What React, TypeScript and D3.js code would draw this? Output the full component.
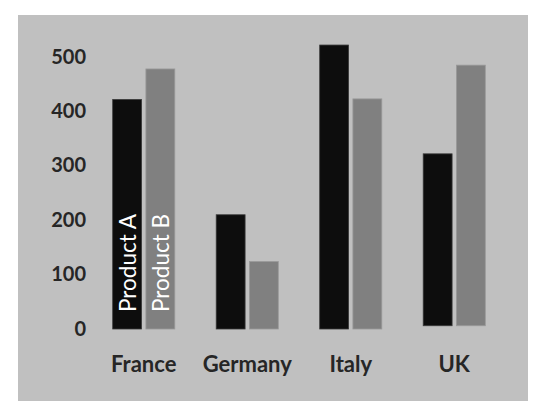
import * as d3 from 'd3';
import React, { useEffect, useRef } from 'react';

const countries = ['France', 'Germany', 'Italy', 'UK'];
const products = ['Product A', 'Product B'];
// bar tops
const productA = [422, 210, 522, 322];
const productB = [478, 124, 423, 485];
// UK bars float slightly above zero in the original
const barBase = [0, 0, 0, 6];
const yTicks = [0, 100, 200, 300, 400, 500];

const width = 546;
const height = 416;
const font = 'Lato, "Open Sans", sans-serif';

export default function App() {
  const ref = useRef<SVGSVGElement>(null);

  useEffect(() => {
    const svg = d3.select(ref.current);
    svg.selectAll('*').remove();

    svg.append('rect').attr('x', 18).attr('y', 15).attr('width', 510).attr('height', 386).attr('fill', '#c0c0c0');

    const x = d3.scaleBand().domain(countries).range([92, 506]).paddingInner(0.4).paddingOuter(0.2);
    const xInner = d3.scaleBand().domain(products).range([0, x.bandwidth()]).paddingInner(0.13);
    const y = d3.scaleLinear().domain([0, 500]).range([329, 57]);

    const colors = d3.scaleOrdinal<string>().domain(products).range(['#0d0d0d', '#808080']);
    const strokes = d3.scaleOrdinal<string>().domain(products).range(['#3a3a3a', '#999999']);

    // y tick labels
    svg
      .append('g')
      .selectAll('text')
      .data(yTicks)
      .enter()
      .append('text')
      .attr('x', 86)
      .attr('y', (d) => y(d) - 1.5)
      .attr('text-anchor', 'end')
      .attr('dominant-baseline', 'central')
      .attr('font-family', font)
      .attr('font-weight', 700)
      .attr('font-size', 20)
      .attr('fill', '#262626')
      .text((d) => d);

    const rows = countries.map((c, i) => ({
      country: c,
      base: barBase[i],
      values: [productA[i], productB[i]],
    }));

    const groups = svg
      .selectAll('g.group')
      .data(rows)
      .enter()
      .append('g')
      .classed('group', true)
      .attr('transform', (d) => 'translate(' + x(d.country) + ',0)');

    groups
      .selectAll('rect')
      .data((d) => d.values.map((v, j) => ({ key: products[j], value: v, base: d.base })))
      .enter()
      .append('rect')
      .attr('x', (d) => xInner(d.key)!)
      .attr('y', (d) => y(d.value))
      .attr('width', xInner.bandwidth())
      .attr('height', (d) => y(d.base) - y(d.value))
      .attr('fill', (d) => colors(d.key))
      .attr('stroke', (d) => strokes(d.key))
      .attr('stroke-width', 0.8);

    // series names written inside the first group's bars
    const first = rows[0];
    svg
      .append('g')
      .attr('transform', 'translate(' + x(first.country) + ',0)')
      .selectAll('text')
      .data(products)
      .enter()
      .append('text')
      .attr('transform', (d) => 'translate(' + (xInner(d)! + xInner.bandwidth() / 2) + ',' + (y(0) - 17) + ') rotate(-90)')
      .attr('dominant-baseline', 'central')
      .attr('font-family', font)
      .attr('font-size', 22.5)
      .attr('fill', '#ffffff')
      .text((d) => d);

    // category labels
    svg
      .append('g')
      .selectAll('text')
      .data(countries)
      .enter()
      .append('text')
      .attr('x', (d) => x(d)! + x.bandwidth() / 2)
      .attr('y', 372)
      .attr('text-anchor', 'middle')
      .attr('font-family', font)
      .attr('font-weight', 700)
      .attr('font-size', 22)
      .attr('fill', '#262626')
      .text((d) => d);
  }, []);

  return (
    <svg
      ref={ref}
      width={width}
      height={height}
      style={{ position: 'absolute', left: 0, top: 0, background: '#ffffff' }}
    ></svg>
  );
}
